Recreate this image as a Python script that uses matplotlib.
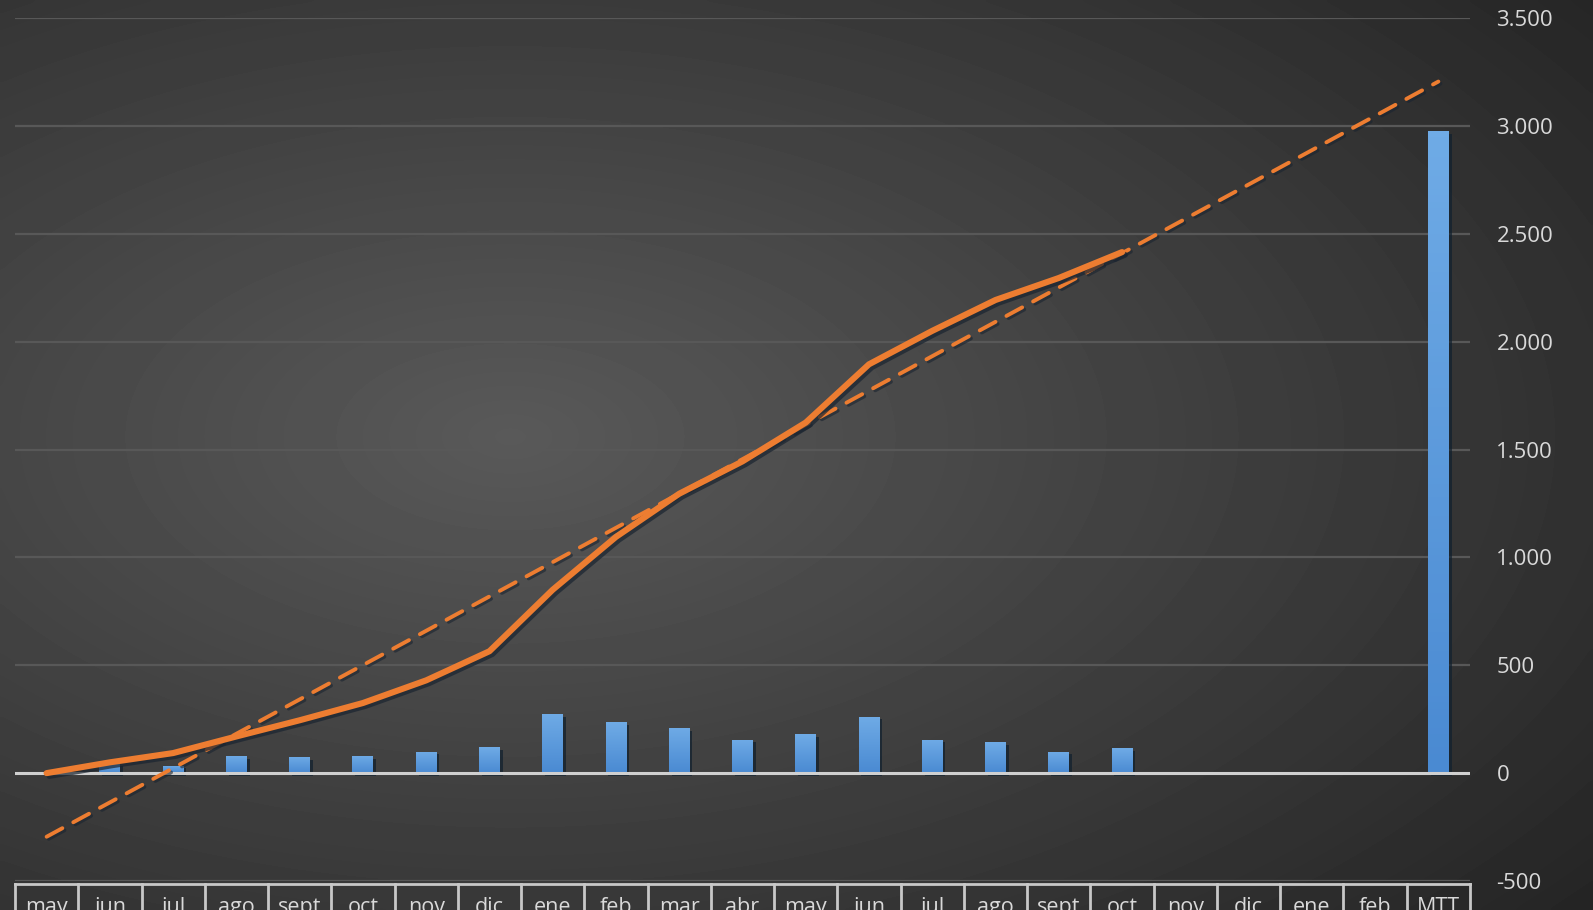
import matplotlib
matplotlib.use('Agg')
import matplotlib.pyplot as plt
import matplotlib.patheffects as pe
from matplotlib.ticker import FuncFormatter
import numpy as np

# categorias (tabla de datos abajo)
meses = ['may', 'jun', 'jul', 'ago', 'sept', 'oct', 'nov', 'dic', 'ene', 'feb',
         'mar', 'abr', 'may', 'jun', 'jul', 'ago', 'sept', 'oct', 'nov', 'dic',
         'ene', 'feb', 'MTT']
# valores mensuales (barras), desde jun
mensual = [45, 35, 80, 75, 80, 100, 120, 275, 236, 209, 155, 180, 262, 155, 142, 100, 115]
# acumulado (linea naranja), desde may
acumulado = [0, 50, 93, 170, 245, 325, 430, 565, 850, 1095, 1295, 1445, 1625,
             1895, 2050, 2193, 2295, 2415]
mtt = 2975

plt.rcParams['font.family'] = ['Open Sans', 'DejaVu Sans']

fig = plt.figure(figsize=(15.93, 9.10), dpi=100)

# fondo con degradado radial
bg = fig.add_axes([0, 0, 1, 1], zorder=-10)
gx, gy = np.meshgrid(np.linspace(0, 1, 400), np.linspace(0, 1, 230))
r = np.sqrt(((gx - 0.32) / 0.85) ** 2 + ((gy - 0.48) / 0.8) ** 2)
val = np.clip(0.35 - 0.2 * r, 0.14, 0.4)
bg.imshow(val, cmap='gray', vmin=0, vmax=1, aspect='auto', extent=[0, 1, 0, 1],
          origin='upper', interpolation='bicubic')
bg.axis('off')

ax = fig.add_axes([15 / 1593, 1 - 881 / 910, 1455 / 1593, 863 / 910])
ax.patch.set_alpha(0)

n = len(meses)
x = np.arange(1, n + 1)
ax.set_xlim(0.5, n + 0.5)
ax.set_ylim(-500, 3500)

# lineas de cuadricula
for yv in range(-500, 3501, 500):
    if yv == 0:
        continue
    ax.axhline(yv, color='#585858', lw=1.6, zorder=1)

# barras con degradado
xb = list(x[1:len(mensual) + 1]) + [n]
yb = mensual + [mtt]
bars = ax.bar(xb, yb, width=0.33, color='#5b9bd5', zorder=3,
              path_effects=[pe.SimplePatchShadow(offset=(2, -2), shadow_rgbFace='#10202e', alpha=0.7),
                            pe.Normal()])
grad = np.linspace(0, 1, 100).reshape(-1, 1)
cmap = matplotlib.colors.LinearSegmentedColormap.from_list('b', ['#4a8ad2', '#6fabe6'])
for b in bars:
    x0, w, h = b.get_x(), b.get_width(), b.get_height()
    im = ax.imshow(grad, cmap=cmap, aspect='auto', extent=[x0, x0 + w, 0, h],
                   origin='lower', zorder=3.5)
    im.set_clip_path(b)

ax.axhline(0, color='#d0d0d0', lw=2.2, zorder=4)

# linea acumulada
xl = x[:len(acumulado)]
ax.plot(xl, acumulado, color='#ed7d31', lw=4.4, solid_capstyle='round', zorder=6,
        path_effects=[pe.SimpleLineShadow(offset=(2, -2), shadow_color='#1a2430', alpha=0.7),
                      pe.Normal()])

# linea de tendencia lineal, pronostico 5 periodos
k, c = np.polyfit(xl, acumulado, 1)
xt = np.array([1, n])
ax.plot(xt, k * xt + c, color='#ed7d31', lw=2.8, dashes=(4.6, 3.2), dash_capstyle='round',
        zorder=5,
        path_effects=[pe.SimpleLineShadow(offset=(1.5, -1.5), shadow_color='#1a2430', alpha=0.6),
                      pe.Normal()])

# eje y a la derecha
ax.yaxis.tick_right()
ax.set_yticks(range(-500, 3501, 500))
ax.yaxis.set_major_formatter(FuncFormatter(lambda v, p: f'{int(v):,}'.replace(',', '.')))
ax.tick_params(axis='y', length=0, pad=19, labelsize=16, labelcolor='#d9d9d9')
ax.set_xticks([])
for s in ax.spines.values():
    s.set_visible(False)

# tabla de datos (cortada por el borde)
tr = ax.get_xaxis_transform()
ytop = -0.004
ax.plot([0.5, n + 0.5], [ytop, ytop], transform=tr, color='#c8c8c8', lw=2, clip_on=False)
for i in range(n + 1):
    xv = 0.5 + i
    ax.plot([xv, xv], [ytop, -0.08], transform=tr, color='#c8c8c8', lw=2, clip_on=False)
for i, m in enumerate(meses):
    ax.text(i + 1, -0.019, m, transform=tr, ha='center', va='top', fontsize=15.5,
            color='#d9d9d9', clip_on=False)

fig.savefig('out.png', dpi=100)
